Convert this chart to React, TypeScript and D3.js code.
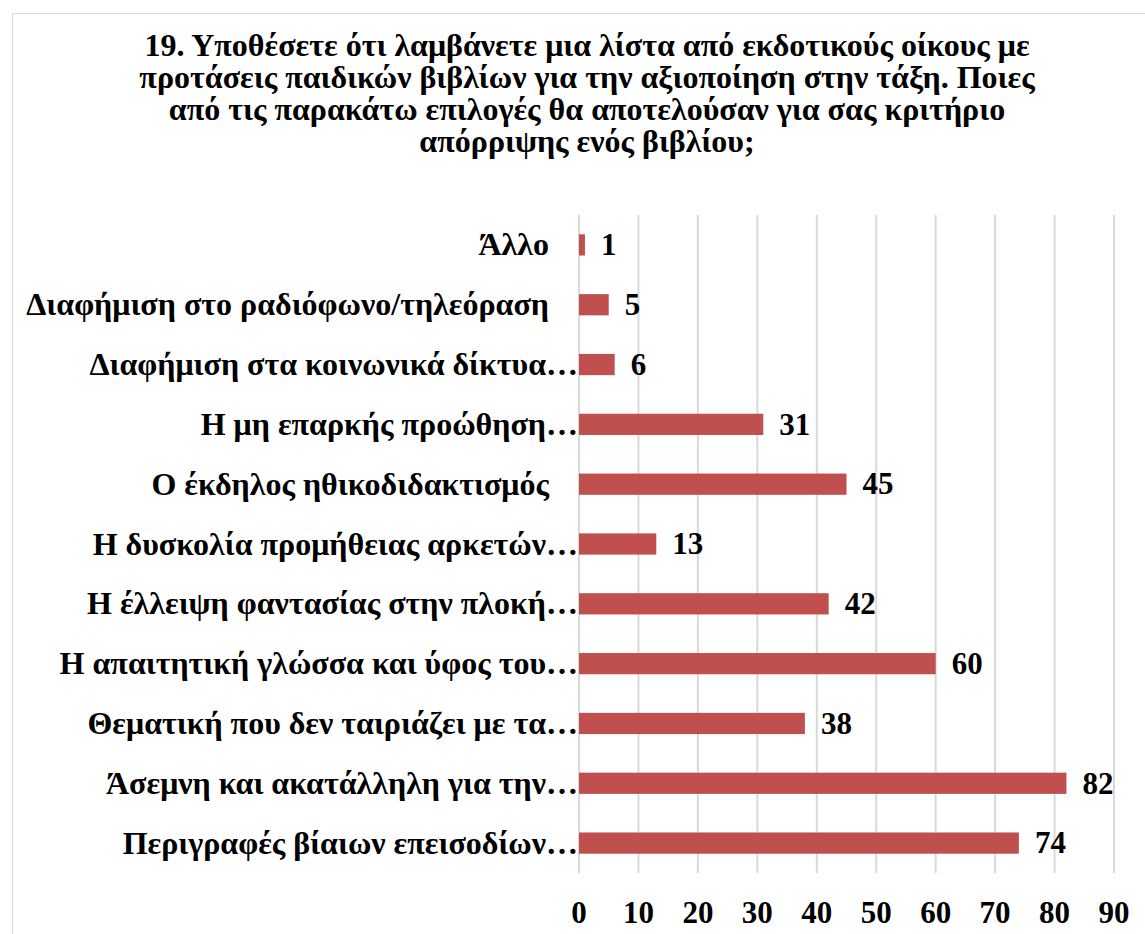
import React from "react";
import * as d3 from "d3";

const titleLines = [
  "19. Υποθέσετε ότι λαμβάνετε μια λίστα από εκδοτικούς οίκους με",
  "προτάσεις παιδικών βιβλίων για την αξιοποίηση στην τάξη. Ποιες",
  "από τις παρακάτω επιλογές θα αποτελούσαν για σας κριτήριο",
  "απόρριψης ενός βιβλίου;",
];

const categories = [
  "Άλλο",
  "Διαφήμιση στο ραδιόφωνο/τηλεόραση",
  "Διαφήμιση στα κοινωνικά δίκτυα…",
  "Η μη επαρκής προώθηση…",
  "Ο έκδηλος ηθικοδιδακτισμός",
  "Η δυσκολία προμήθειας αρκετών…",
  "Η έλλειψη φαντασίας στην πλοκή…",
  "Η απαιτητική γλώσσα και ύφος του…",
  "Θεματική που δεν ταιριάζει με τα…",
  "Άσεμνη και ακατάλληλη για την…",
  "Περιγραφές βίαιων επεισοδίων…",
];

const values = [1, 5, 6, 31, 45, 13, 42, 60, 38, 82, 74];

const ticks = [0, 10, 20, 30, 40, 50, 60, 70, 80, 90];

const W = 1145;
const H = 934;
const FONT = "Liberation Serif";

export default function App() {
  const x = d3.scaleLinear().domain([0, 90]).range([579, 1114]);
  const y = d3
    .scaleBand<string>()
    .domain(categories)
    .range([215, 873])
    .paddingInner(0.645)
    .paddingOuter(0.3225);

  return (
    <div style={{ position: "absolute", left: 0, top: 0 }}>
      <svg width={W} height={H} style={{ display: "block", background: "#fff" }}>
        <rect x={12.5} y={13.5} width={1300} height={1100} fill="#fff" stroke="#D9D9D9" strokeWidth={1} />
        {titleLines.map((t, i) => (
          <text
            key={i}
            x={587}
            y={56 + i * 32}
            textAnchor="middle"
            fontFamily={FONT}
            fontWeight="bold"
            fontSize={32}
            fill="#000"
          >
            {t}
          </text>
        ))}
        {ticks.map((t) => (
          <line key={t} x1={x(t)} x2={x(t)} y1={215} y2={873} stroke="#D9D9D9" strokeWidth={2} />
        ))}
        {categories.map((c, i) => (
          <rect
            key={c}
            x={x(0)}
            y={y(c)!}
            width={x(values[i]) - x(0)}
            height={y.bandwidth()}
            fill="#C0504D"
          />
        ))}
        {categories.map((c, i) => {
          const full = !c.endsWith("…");
          return (
            <text
              key={"l" + c}
              x={full ? 549 : 578}
              y={y(c)! + y.bandwidth() / 2}
              dy="0.33em"
              textAnchor="end"
              fontFamily={FONT}
              fontWeight="bold"
              fontSize={32}
              fill="#000"
            >
              {c}
            </text>
          );
        })}
        {categories.map((c, i) => (
          <text
            key={"v" + c}
            x={x(values[i]) + 16}
            y={y(c)! + y.bandwidth() / 2}
            dy="0.33em"
            fontFamily={FONT}
            fontWeight="bold"
            fontSize={31}
            fill="#000"
          >
            {values[i]}
          </text>
        ))}
        {ticks.map((t) => (
          <text
            key={"t" + t}
            x={x(t)}
            y={923}
            textAnchor="middle"
            fontFamily={FONT}
            fontWeight="bold"
            fontSize={31}
            fill="#000"
          >
            {t}
          </text>
        ))}
      </svg>
    </div>
  );
}
